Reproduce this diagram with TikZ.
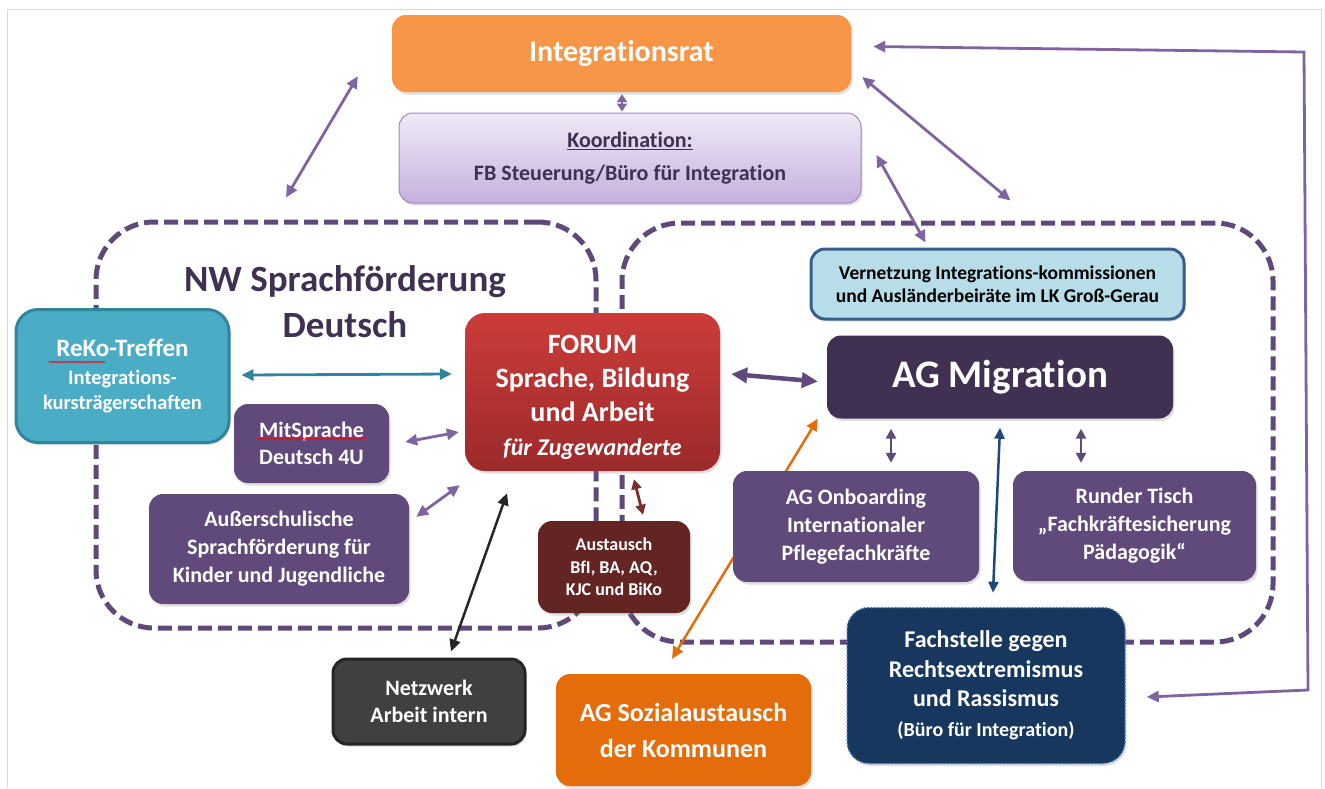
\documentclass[tikz,border=0pt]{standalone}
\usepackage{fontspec}
\setmainfont{Carlito}[Ligatures={TeX,NoCommon}]
\usetikzlibrary{arrows.meta,calc,shadows,decorations.pathmorphing}
\newcommand\fsz[2]{\fontsize{#1}{#2}\selectfont}
\definecolor{cOr}{HTML}{F79646}
\definecolor{cPu}{HTML}{604A7B}
\definecolor{cDk}{HTML}{403152}
\definecolor{cReg}{HTML}{5F497A}
\definecolor{cAr}{HTML}{8064A2}
\definecolor{cTeal}{HTML}{4BACC6}
\definecolor{cTealD}{HTML}{31849B}
\definecolor{cVern}{HTML}{B7DEE8}
\definecolor{cVernD}{HTML}{385D8A}
\definecolor{cRedT}{HTML}{CB3C39}
\definecolor{cRedB}{HTML}{9C2A2B}
\definecolor{cBrown}{HTML}{632523}
\definecolor{cBrownA}{HTML}{7B2D2D}
\definecolor{cGray}{HTML}{404040}
\definecolor{cGrayD}{HTML}{262626}
\definecolor{cOrT}{HTML}{E46C0A}
\definecolor{cNavy}{HTML}{17375E}
\definecolor{cNavyD}{HTML}{4F81BD}
\definecolor{cBlue}{HTML}{1F497D}
\definecolor{cKt}{HTML}{F0EAF7}
\definecolor{cKb}{HTML}{C5B1DD}
\definecolor{cKd}{HTML}{9F88BF}
\definecolor{cTxt}{HTML}{3F3151}
\definecolor{cFrame}{HTML}{D9D9D9}
\pgfdeclarelayer{bg}\pgfdeclarelayer{conn}\pgfsetlayers{bg,conn,main}
\begin{document}
\begin{tikzpicture}[x=1pt,y=-1pt,
 box/.style={rounded corners=14pt, align=center, text=white, inner sep=0pt,
   drop shadow={opacity=0.25,shadow xshift=1.5pt,shadow yshift=-2.5pt}},
 sz/.style 2 args={minimum width=#1pt, minimum height=#2pt},
 region/.style={draw=cReg, line width=5pt, dash pattern=on 14pt off 6pt, rounded corners=58pt, inner sep=0pt},
 pa/.style={draw=cAr, line width=2.8pt, {Triangle[length=12pt,width=11pt]}-{Triangle[length=12pt,width=11pt]}},
 pas/.style={draw=cPu, line width=2.8pt, {Triangle[length=10pt,width=10pt]}-{Triangle[length=10pt,width=10pt]}},
 pab/.style={draw=cPu, line width=4.5pt, {Triangle[length=16pt,width=15pt]}-{Triangle[length=16pt,width=15pt]}},
 wavy/.style={draw=red, line width=0.7pt, decorate, decoration={snake, amplitude=0.8pt, segment length=3pt}}
]
\useasboundingbox (0,0) rectangle (1325,788);
\begin{pgfonlayer}{bg}
\draw[cFrame, line width=1pt] (7,788) -- (7,9) -- (1321,9) -- (1321,788);
\node[region, sz={500}{406}] (nw) at (346,425) {};
\node[region, sz={651}{419}] (mreg) at (947.5,432.5) {};
\node[text=cTxt, align=center, font=\fsz{37}{46}\bfseries] (nwt) at (345,302) {NW Sprachförderung\\Deutsch};
\end{pgfonlayer}

% boxes
\node[box, fill=cOr, sz={459}{77}, font=\fsz{30}{36}\bfseries] (rat) at (621.5,53.5) {Integrationsrat};
\node[box, top color=cKt, bottom color=cKb, draw=cKd, line width=1pt, text=cTxt, sz={462}{90}, font=\fsz{22}{33}\bfseries] (koord) at (630,158) {\underline{Koordination:}\\FB Steuerung/Büro für Integration};
\node[box, rounded corners=22pt, fill=cTeal, draw=cTealD, line width=3pt, sz={213}{133}, font=\fsz{20.5}{25}\bfseries] (reko) at (122.5,376) {{\fsz{25}{30}ReKo-Treffen}\\[3pt]Integrations-\\kursträgerschaften};
\node[box, fill=cPu, sz={155}{79}, font=\fsz{22}{27}\bfseries] (mit) at (311.5,443.5) {MitSprache\\Deutsch 4U};
\node[box, fill=cPu, sz={260}{110}, font=\fsz{22}{28}\bfseries] (auss) at (279,549) {Außerschulische\\Sprachförderung für\\Kinder und Jugendliche};
\node[box, rounded corners=20pt, top color=cRedT, bottom color=cRedB, sz={255}{158}, font=\fsz{28}{34}\bfseries] (forum) at (592.5,392) {\rule{0pt}{30pt}FORUM\\Sprache, Bildung\\und Arbeit\\{\fsz{24}{30}\itshape für Zugewanderte}};
\node[box, fill=cBrown, sz={152}{92}, font=\fsz{18}{22.5}\bfseries] (aust) at (614,567) {Austausch\\BfI, BA, AQ,\\KJC und BiKo};
\node[box, fill=cGray, draw=cGrayD, line width=3pt, sz={192}{85}, font=\fsz{22}{27}\bfseries] (netz) at (429,701.5) {Netzwerk\\Arbeit intern};
\node[box, fill=cOrT, sz={255}{112}, font=\fsz{26}{36}\bfseries] (sozial) at (683.5,730) {AG Sozialaustausch\\der Kommunen};
\node[box, fill=cVern, draw=cVernD, line width=3pt, text=black, sz={373}{70}, font=\fsz{19.5}{23}\bfseries] (vern) at (997.5,284) {Vernetzung Integrations-kommissionen\\und Ausländerbeiräte im LK Groß-Gerau};
\node[box, fill=cDk, sz={346}{83}, font=\fsz{39}{44}\bfseries] (mig) at (1000,377) {AG Migration};
\node[box, fill=cPu, sz={246}{111}, font=\fsz{22}{28}\bfseries] (onb) at (856,526.5) {AG Onboarding\\Internationaler\\Pflegefachkräfte};
\node[box, fill=cPu, sz={243}{110}, font=\fsz{22}{28}\bfseries] (rund) at (1134.5,526) {Runder Tisch\\„Fachkräftesicherung\\Pädagogik“};
\node[box, rounded corners=22pt, fill=cNavy, draw=cNavyD, line width=1.5pt, dotted, sz={278}{156}, font=\fsz{24}{29.5}\bfseries] (fach) at (986,685.5) {Fachstelle gegen\\Rechtsextremismus\\und Rassismus\\{\fsz{20}{24}(Büro für Integration)}};

% spell-check underlines
\draw[wavy] ($(reko.north west)+(34,54)$) -- ($(reko.north west)+(91,54)$);
\draw[wavy] ($(mit.north west)+(24,35)$) -- ($(mit.north west)+(131,35)$);

% connectors
\begin{pgfonlayer}{conn}
\draw[draw=cAr, line width=2pt, {Triangle[length=8pt,width=10pt]}-{Triangle[length=8pt,width=10pt]}] ($(rat.south)+(0.5,2)$) -- ($(koord.north)+(-8,-1)$);
\draw[pa] ($(rat.south west)+(-34,-16)$) -- ($(nw.north)+(-60,-22)$);
\draw[pa] ($(rat.east)+(11,23.5)$) -- ($(mreg.north)+(63,-20)$);
\draw[pa] ($(koord.east)+(15,-3)$) -- ($(vern.north)+(-72,-5)$);
\draw[pa] ($(fach.east)+(21,11.5)$) -- (1308,690) -- (1304,52) -- ($(rat.east)+(22,-7)$);
\draw[draw=cTealD, line width=2.8pt, {Triangle[length=12pt,width=11pt]}-{Triangle[length=12pt,width=11pt]}] ($(reko.east)+(11,-1)$) -- ($(forum.west)+(-13,-18)$);
\draw[pa] ($(mit.east)+(16,-1.5)$) -- ($(forum.west)+(-6,40)$);
\draw[pa] ($(auss.north east)+(7,23)$) -- ($(forum.south west)+(-5,14)$);
\draw[pab] ($(forum.east)+(11,-18)$) -- ($(mig.west)+(-9,4.5)$);
\draw[draw=cBrownA, line width=2.8pt, {Triangle[length=10pt,width=10pt]}-{Triangle[length=10pt,width=10pt]}] ($(forum.south)+(41.5,8)$) -- ($(aust.north)+(29,-6)$);
\draw[draw=cGrayD, line width=2.5pt, {Triangle[length=12pt,width=11pt]}-{Triangle[length=12pt,width=11pt]}] ($(forum.south)+(-85.5,22)$) -- ($(netz.north)+(22,-6)$);
\draw[draw=cOrT, line width=2.5pt, {Triangle[length=12pt,width=11pt]}-{Triangle[length=12pt,width=11pt]}] ($(sozial.north)+(-11.5,-15)$) -- ($(mig.south west)+(-9,0)$);
\draw[pas] ($(mig.south)+(-109,10)$) -- ($(onb.north)+(35,-8)$);
\draw[pas] ($(mig.south)+(81,10)$) -- ($(rund.north)+(-53.5,-8)$);
\draw[draw=cBlue, line width=2.5pt, {Triangle[length=11pt,width=10pt]}-{Triangle[length=11pt,width=10pt]}] ($(mig.south)+(0,9)$) -- ($(fach.north)+(7,-14)$);
\end{pgfonlayer}
\end{tikzpicture}
\end{document}
